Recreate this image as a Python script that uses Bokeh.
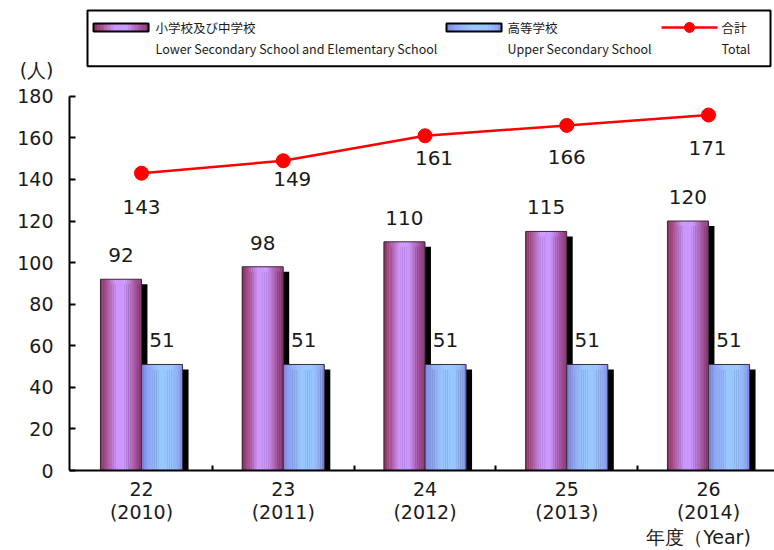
from bokeh.plotting import figure
from bokeh.models import Range1d, FixedTicker, Label, ColumnDataSource, LinearAxis
from bokeh.core.properties import value
from bokeh.transform import dodge
from bokeh.embed import file_html
from bokeh.resources import INLINE

# ---------------- data ----------------
years_jp = ["22", "23", "24", "25", "26"]
years_ad = ["2010", "2011", "2012", "2013", "2014"]
lower_elem = [92, 98, 110, 115, 120]      # 小学校及び中学校
upper_sec = [51, 51, 51, 51, 51]          # 高等学校
total = [143, 149, 161, 166, 171]         # 合計
y_ticks = [0, 20, 40, 60, 80, 100, 120, 140, 160, 180]
series_jp = ["小学校及び中学校", "高等学校", "合計"]
series_en = ["Lower Secondary School and Elementary School", "Upper Secondary School", "Total"]
unit_label = "(人)"
year_label = "年度（Year)"

# ---------------- style / layout ----------------
W, H = 774, 550
FL, FBOT = 69, 471            # frame left / bottom in canvas px
PX_X = 141.75                 # px per category
PX_Y = 375 / 180              # px per person
X0 = -72 / PX_X
x_end = X0 + (W - FL) / PX_X
y_end = FBOT / PX_Y

NUM_FONT = "DejaVu Sans"
JP_FONT = "Noto Sans CJK JP"
TXT = "#1a1a1a"

BW = 41 / PX_X                # bar width
OFFS = [-0.145, 0.145]        # bar offsets
SHX = 6 / PX_X                # shadow offset x
SHY = 5 / PX_Y                # shadow offset y
NSTRIP = 22

purple_stops = [(0.0, "#862e5c"), (0.12, "#a24a86"), (0.38, "#cc96fc"),
                (0.6, "#cc99ff"), (0.86, "#a3529a"), (1.0, "#8a3a70")]
blue_stops = [(0.0, "#7c84dc"), (0.15, "#8ea4f3"), (0.45, "#99c8ff"),
              (0.72, "#99c6ff"), (0.92, "#8fa6f2"), (1.0, "#7f8ae0")]

# total label offsets (px) as placed in the original
tot_dx = [0, 9, 9, 0, -1]
tot_dy = [34, 18, 22, 32, 33]

UNIT_POS = (FBOT - 70) / PX_Y            # where "(人)" sits on the value axis
YEAR_POS = X0 + (698 - FL) / PX_X        # where "年度（Year)" sits on the x axis


def hex2rgb(h):
    h = h.lstrip("#")
    return tuple(int(h[i:i + 2], 16) for i in (0, 2, 4))


def grad(stops, t):
    for (t0, c0), (t1, c1) in zip(stops[:-1], stops[1:]):
        if t0 <= t <= t1:
            f = 0 if t1 == t0 else (t - t0) / (t1 - t0)
            a, b = hex2rgb(c0), hex2rgb(c1)
            return "#%02x%02x%02x" % tuple(round(a[i] + (b[i] - a[i]) * f) for i in range(3))
    return stops[-1][1]


def dx(px):   # canvas px -> data x (legend decoration)
    return X0 + (px - FL) / PX_X


def dy(py):   # canvas px -> data y
    return (FBOT - py) / PX_Y


def text_axis(ticks, overrides, standoff, font, size):
    """An axis that only carries labels (no line, no ticks)."""
    return LinearAxis(ticker=FixedTicker(ticks=ticks), major_label_overrides=overrides,
                      axis_line_color=None, major_tick_line_color=None,
                      minor_tick_line_color=None, major_tick_in=0, major_tick_out=0,
                      minor_tick_in=0, minor_tick_out=0, major_label_standoff=standoff,
                      major_label_text_font=font, major_label_text_font_size=size,
                      major_label_text_color=TXT)


p = figure(width=W, height=H, x_range=Range1d(X0, x_end), y_range=Range1d(0, y_end),
           output_backend="svg", toolbar_location=None,
           min_border_left=FL, min_border_right=0, min_border_top=0,
           min_border_bottom=H - FBOT)
p.xgrid.visible = False
p.ygrid.visible = False
p.outline_line_color = None
p.background_fill_color = "white"
p.border_fill_color = "white"

idx = list(range(len(years_jp)))

# ---------------- bars ----------------
for vals, off, stops in [(lower_elem, OFFS[0], purple_stops), (upper_sec, OFFS[1], blue_stops)]:
    src = ColumnDataSource(dict(x=idx, top=vals, stop=[v - SHY for v in vals],
                                label=[str(v) for v in vals]))
    p.vbar(x=dodge("x", off + SHX), top="stop", width=BW, source=src,
           fill_color="black", line_color=None)
    sw = BW / NSTRIP
    for k in range(NSTRIP):
        t = (k + 0.5) / NSTRIP
        p.vbar(x=dodge("x", off - BW / 2 + (k + 0.5) * sw), top="top", width=sw * 1.2,
               source=src, fill_color=grad(stops, t), line_color=None)
    p.vbar(x=dodge("x", off), top="top", width=BW, source=src,
           fill_color=None, line_color="#3a2a3a", line_width=1)
    p.text(x=dodge("x", off), y="top", text="label", source=src, y_offset=-24,
           text_align="center", text_baseline="middle", text_font=value(NUM_FONT),
           text_font_size="20px", text_color=TXT)

# ---------------- total line ----------------
tsrc = ColumnDataSource(dict(x=idx, y=total, label=[str(v) for v in total],
                             ox=tot_dx, oy=tot_dy))
p.line(x="x", y="y", source=tsrc, line_color="#ff0000", line_width=2.5)
p.scatter(x="x", y="y", source=tsrc, size=14, fill_color="#ff0000", line_color="#ff0000")
p.text(x="x", y="y", text="label", source=tsrc, x_offset="ox", y_offset="oy",
       text_align="center", text_baseline="middle", text_font=value(NUM_FONT),
       text_font_size="20px", text_color=TXT)

# ---------------- axes ----------------
ya = p.yaxis[0]
ya.ticker = FixedTicker(ticks=y_ticks)
ya.bounds = (0, 180)
ya.axis_line_width = 2
ya.axis_line_color = "black"
ya.major_tick_in = 6
ya.major_tick_out = 0
ya.major_tick_line_width = 2
ya.minor_tick_in = 0
ya.minor_tick_out = 0
ya.major_label_standoff = 0
ya.major_label_overrides = {t: "" for t in y_ticks}

p.add_layout(text_axis(y_ticks + [UNIT_POS], {UNIT_POS: unit_label}, 16, NUM_FONT, "19px"), "left")

xa = p.xaxis[0]
xa.ticker = FixedTicker(ticks=idx, minor_ticks=[i + 0.5 for i in idx[:-1]])
xa.major_label_overrides = {i: a for i, a in enumerate(years_jp)}
xa.axis_line_width = 2
xa.axis_line_color = "black"
xa.major_tick_in = 0
xa.major_tick_out = 0
xa.minor_tick_in = 5
xa.minor_tick_out = 0
xa.minor_tick_line_width = 2
xa.major_label_standoff = 11
xa.major_label_text_font = NUM_FONT
xa.major_label_text_font_size = "19px"
xa.major_label_text_color = TXT

p.add_layout(text_axis(idx, {i: f"({b})" for i, b in enumerate(years_ad)}, 2, NUM_FONT, "19px"), "below")
p.add_layout(text_axis([YEAR_POS], {YEAR_POS: year_label}, 0, NUM_FONT, "19px"), "below")

# ---------------- legend (drawn) ----------------
LB_L, LB_R, LB_T, LB_B = 87, 770, 10, 66
p.quad(left=[dx(LB_L)], right=[dx(LB_R)], top=[dy(LB_T)], bottom=[dy(LB_B)],
       fill_color="white", line_color="black", line_width=2)
ROW1, ROW2 = 27, 48
sw_px = 55
for gx, stops in [(93, purple_stops), (446, blue_stops)]:
    n = 16
    for k in range(n):
        t = (k + 0.5) / n
        p.quad(left=[dx(gx + k * sw_px / n)], right=[dx(gx + (k + 1.2) * sw_px / n)],
               top=[dy(ROW1 - 4)], bottom=[dy(ROW1 + 4)],
               fill_color=grad(stops, t), line_color=None)
    p.quad(left=[dx(gx)], right=[dx(gx + sw_px)], top=[dy(ROW1 - 4)], bottom=[dy(ROW1 + 4)],
           fill_color=None, line_color="black", line_width=2)
p.line(x=[dx(661), dx(717)], y=[dy(ROW1), dy(ROW1)], line_color="#ff0000", line_width=2.5)
p.scatter(x=[dx(689)], y=[dy(ROW1)], size=10, fill_color="#ff0000", line_color="#ff0000")

for tx, jp, en in zip([155, 507, 721], series_jp, series_en):
    for row, s in [(ROW1, jp), (ROW2, en)]:
        p.add_layout(Label(x=dx(tx), y=dy(row), text=s, text_baseline="middle",
                           text_font=JP_FONT, text_font_size="12.5px", text_color=TXT))

open("out.html", "w").write(file_html(p, INLINE))
